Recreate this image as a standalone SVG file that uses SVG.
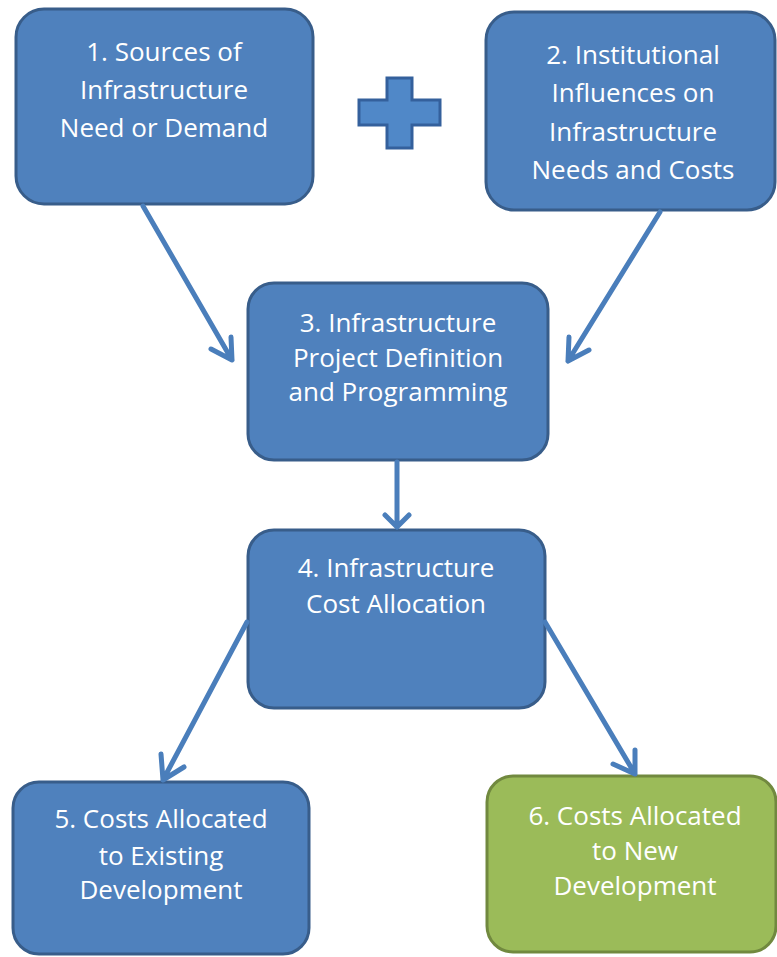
<svg xmlns="http://www.w3.org/2000/svg" width="777" height="957" viewBox="0 0 777 957">
<style>
.box{fill:#4f81bd;stroke:#385d8a;stroke-width:3}
.green{fill:#9bbb59;stroke:#71893f;stroke-width:3}
.t{font-family:"Open Sans","Liberation Sans",sans-serif;font-size:26px;fill:#ffffff;text-anchor:middle}
.c{stroke:#4a7ebb;stroke-width:5;fill:none;stroke-linecap:round;stroke-linejoin:round}
</style>
<rect width="777" height="957" fill="#ffffff"/>
<g id="node1"><rect class="box" x="16" y="9" width="297" height="195" rx="28"/>
<text class="t" x="164" y="61">1. Sources of</text><text class="t" x="164" y="99">Infrastructure</text><text class="t" x="164" y="137">Need or Demand</text></g>
<g id="plus"><path d="M387,78 H412 V100 H440 V125 H412 V148 H387 V125 H359 V100 H387 Z" fill="#5088c8" stroke="#34609c" stroke-width="3"/></g>
<g id="node2"><rect class="box" x="486" y="12" width="289" height="198" rx="28"/>
<text class="t" x="633" y="64">2. Institutional</text><text class="t" x="633" y="102">Influences on</text><text class="t" x="633" y="141">Infrastructure</text><text class="t" x="633" y="179">Needs and Costs</text></g>
<g id="node3"><rect class="box" x="248" y="283" width="300" height="177" rx="26"/>
<text class="t" x="398" y="332">3. Infrastructure</text><text class="t" x="398" y="367">Project Definition</text><text class="t" x="398" y="401">and Programming</text></g>
<g id="node4"><rect class="box" x="248" y="530" width="297" height="178" rx="26"/>
<text class="t" x="396" y="577">4. Infrastructure</text><text class="t" x="396" y="613">Cost Allocation</text></g>
<g id="node5"><rect class="box" x="13" y="782" width="296" height="172" rx="26"/>
<text class="t" x="161" y="828">5. Costs Allocated</text><text class="t" x="161" y="865">to Existing</text><text class="t" x="161" y="899">Development</text></g>
<g id="node6"><rect class="green" x="487" y="776" width="289" height="176" rx="26"/>
<text class="t" x="635" y="825">6. Costs Allocated</text><text class="t" x="635" y="860">to New</text><text class="t" x="635" y="895">Development</text></g>
<g id="connectors">
<path class="c" d="M143,206 L232,360 M231,337 L232,360 L211,349"/>
<path class="c" d="M660,212 L568,361 M569,337 L568,361 L589,350"/>
<path class="c" d="M397,462 L397,527 M385,515 L397,527 L409,515"/>
<path class="c" d="M247,622 L163,780 M161,754 L163,780 L184,767"/>
<path class="c" d="M545,622 L635,774 M635,750 L635,774 L613,764"/>
</g>
</svg>
